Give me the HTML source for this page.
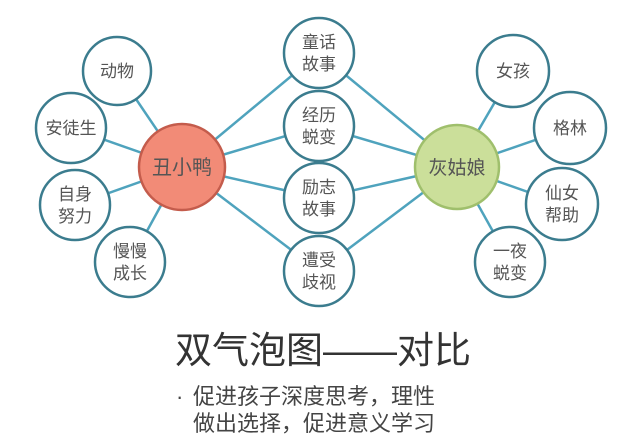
<!DOCTYPE html>
<html><head><meta charset="utf-8"><style>
html,body{margin:0;padding:0;background:#fff;width:638px;height:445px;overflow:hidden}
svg text{font-family:"Liberation Sans","Noto Sans CJK SC",sans-serif;fill:#555;text-anchor:middle}
svg text.l{text-anchor:start;fill:#444}
</style></head><body>
<svg width="638" height="445" viewBox="0 0 638 445">
<g stroke="#4fa3bd" stroke-width="2.5">
<line x1="182" y1="167" x2="117" y2="71"/>
<line x1="182" y1="167" x2="71" y2="128"/>
<line x1="182" y1="167" x2="75" y2="205"/>
<line x1="182" y1="167" x2="130" y2="262"/>
<line x1="182" y1="167" x2="319" y2="53"/>
<line x1="182" y1="167" x2="319" y2="126"/>
<line x1="182" y1="167" x2="319" y2="198"/>
<line x1="182" y1="167" x2="319" y2="271"/>
<line x1="457" y1="167" x2="319" y2="53"/>
<line x1="457" y1="167" x2="319" y2="126"/>
<line x1="457" y1="167" x2="319" y2="198"/>
<line x1="457" y1="167" x2="319" y2="271"/>
<line x1="457" y1="167" x2="513" y2="71"/>
<line x1="457" y1="167" x2="570" y2="128"/>
<line x1="457" y1="167" x2="562" y2="204"/>
<line x1="457" y1="167" x2="510" y2="262"/>
</g>
<g fill="#fff" stroke="#3b7c8e" stroke-width="2.5">
<circle cx="117" cy="71" r="34"/>
<circle cx="71" cy="128" r="35"/>
<circle cx="75" cy="205" r="35"/>
<circle cx="130" cy="262" r="35"/>
<circle cx="319" cy="53" r="35"/>
<circle cx="319" cy="126" r="35"/>
<circle cx="319" cy="198" r="35"/>
<circle cx="319" cy="271" r="35"/>
<circle cx="513" cy="71" r="36"/>
<circle cx="570" cy="128" r="36"/>
<circle cx="562" cy="204" r="36"/>
<circle cx="510" cy="262" r="35"/>
</g>
<circle cx="182" cy="167" r="43" fill="#f28b77" stroke="#c45c4c" stroke-width="2.5"/>
<circle cx="457" cy="167" r="42" fill="#cbdf9a" stroke="#9fbf6c" stroke-width="2.5"/>
<g font-size="17">
<text x="182" y="174" font-size="20">丑小鸭</text>
<text x="457" y="174" font-size="19">灰姑娘</text>
<text x="117" y="77">动物</text>
<text x="71" y="134">安徒生</text>
<text x="75" y="200">自身</text><text x="75" y="222">努力</text>
<text x="130" y="257">慢慢</text><text x="130" y="279">成长</text>
<text x="319" y="48">童话</text><text x="319" y="70">故事</text>
<text x="319" y="121">经历</text><text x="319" y="143">蜕变</text>
<text x="319" y="193">励志</text><text x="319" y="215">故事</text>
<text x="319" y="266">遭受</text><text x="319" y="288">歧视</text>
<text x="513" y="77">女孩</text>
<text x="570" y="134">格林</text>
<text x="562" y="199">仙女</text><text x="562" y="221">帮助</text>
<text x="510" y="257">一夜</text><text x="510" y="279">蜕变</text>
</g>
<text x="323" y="363" font-size="37" style="fill:#333">双气泡图——对比</text>
<text class="l" x="176" y="404" font-size="22">·</text>
<text class="l" x="193" y="404" font-size="22">促进孩子深度思考，理性</text>
<text class="l" x="193" y="431" font-size="22">做出选择，促进意义学习</text>
</svg>
</body></html>
